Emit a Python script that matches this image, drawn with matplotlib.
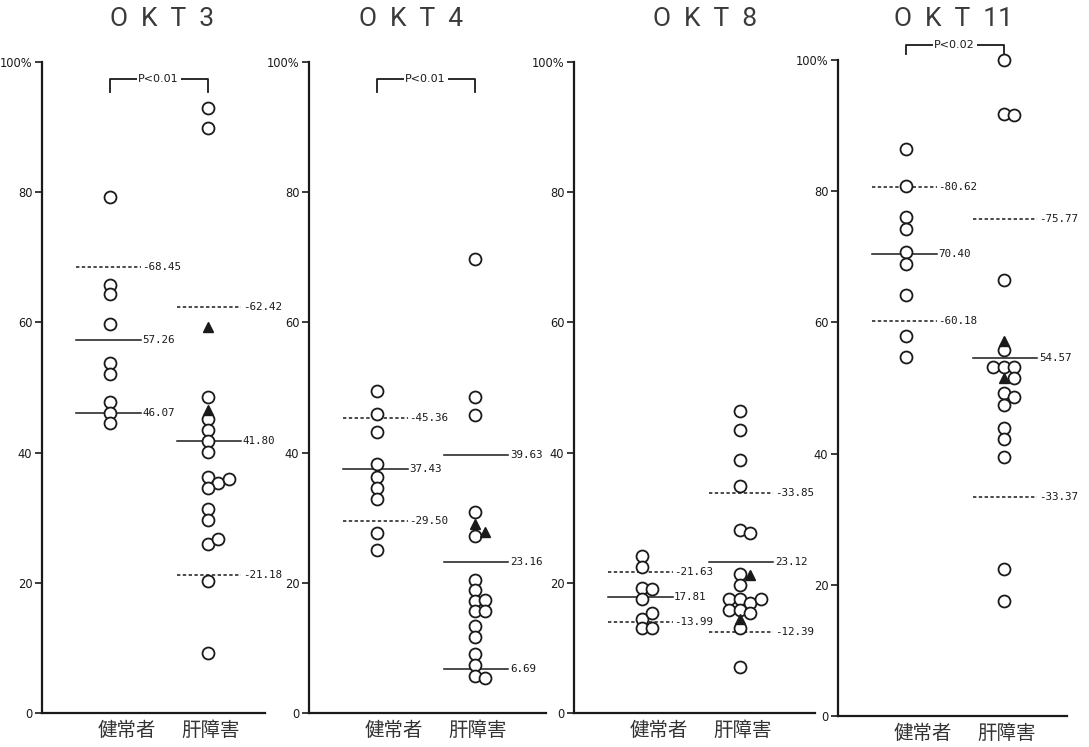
import matplotlib
matplotlib.use("Agg")
import matplotlib.pyplot as plt

# ---------------- data ----------------
panel_titles = ["O  K  T  3", "O  K  T  4", "O  K  T  8", "O  K  T  11"]
groups = ["健常者", "肝障害"]
yticks = [0, 20, 40, 60, 80, 100]
ytick_labels = ["0", "20", "40", "60", "80", "100%"]
p_labels = ["P<0.01", "P<0.01", None, "P<0.02"]

okt3_healthy = [79.2, 65.8, 64.3, 59.7, 53.7, 52.1, 47.8, 46.1, 44.6]
okt3_patient = [93.0, 89.8, 48.5, 45.1, 43.5, 41.8, 40.1, 36.2, 35.4, 35.9,
                34.5, 31.4, 29.6, 26.0, 26.7, 20.2, 9.2]
okt3_patient_tri = [59.3, 46.6]
okt3_healthy_stats = [68.45, 57.26, 46.07]
okt3_patient_stats = [62.42, 41.80, 21.18]

okt4_healthy = [49.5, 46.0, 43.1, 38.2, 36.2, 34.5, 32.9, 27.6, 25.0]
okt4_patient = [69.8, 48.6, 45.8, 30.9, 27.2, 20.4, 18.9, 17.2, 17.4, 15.6,
                15.6, 13.3, 11.7, 9.1, 7.4, 5.7, 5.4]
okt4_patient_tri = [29.0, 27.8]
okt4_healthy_stats = [45.36, 37.43, 29.50]
okt4_patient_stats = [39.63, 23.16, 6.69]

okt8_healthy = [24.1, 22.4, 19.2, 19.0, 17.5, 14.5, 15.3, 13.0, 13.0]
okt8_patient = [46.4, 43.5, 38.8, 34.9, 28.1, 27.6, 21.4, 19.7, 17.5, 17.5,
                16.9, 17.5, 15.8, 15.8, 15.4, 13.0, 7.1]
okt8_patient_tri = [21.2, 14.4]
okt8_healthy_stats = [21.63, 17.81, 13.99]
okt8_patient_stats = [33.85, 23.12, 12.39]

okt11_healthy = [86.4, 80.8, 76.0, 74.3, 70.7, 68.9, 64.2, 58.0, 54.7]
okt11_patient = [100.0, 91.8, 91.6, 66.5, 55.8, 53.2, 53.2, 53.2, 51.6, 49.3,
                 48.7, 47.4, 43.9, 42.2, 39.5, 22.4, 17.6]
okt11_patient_tri = [57.1, 51.5]
okt11_healthy_stats = [80.62, 70.40, 60.18]
okt11_patient_stats = [75.77, 54.57, 33.37]

# ---------------- layout / style (separate from data) ----------------
# column slot of each marker inside its cluster
slots = {
    "okt3": ([0] * 9,
             [0, 0, 0, 0, 0, 0, 0, 0, 1, 2, 0, 0, 0, 0, 1, 0, 0],
             [0, 0]),
    "okt4": ([0] * 9,
             [0, 0, 0, 0, 0, 0, 0, 0, 1, 0, 1, 0, 0, 0, 0, 0, 1],
             [0, 1]),
    "okt8": ([0, 0, 0, 1, 0, 0, 1, 0, 1],
             [0, 0, 0, 0, 0, 1, 0, 0, -1, 0, 1, 2, -1, 0, 1, 0, 0],
             [1, 0]),
    "okt11": ([0] * 9,
              [0, 0, 1, 0, 0, -1, 0, 1, 1, 0, 1, 0, 0, 0, 0, 0, 0],
              [0, 0]),
}
line_styles = {
    "okt3": (["dash", "solid", "solid"], ["dash", "solid", "dash"]),
    "okt4": (["dash", "solid", "dash"], ["solid", "solid", "solid"]),
    "okt8": (["dash", "solid", "dash"], ["dash", "solid", "dash"]),
    "okt11": (["dash", "solid", "dash"], ["dash", "solid", "dash"]),
}

panels = [
    ("okt3", okt3_healthy, okt3_patient, okt3_patient_tri, okt3_healthy_stats, okt3_patient_stats),
    ("okt4", okt4_healthy, okt4_patient, okt4_patient_tri, okt4_healthy_stats, okt4_patient_stats),
    ("okt8", okt8_healthy, okt8_patient, okt8_patient_tri, okt8_healthy_stats, okt8_patient_stats),
    ("okt11", okt11_healthy, okt11_patient, okt11_patient_tri, okt11_healthy_stats, okt11_patient_stats),
]

W, H = 1089, 747
# (left px, right px, top px(=100%), bottom px(=0))
boxes = [(42, 265, 62, 713), (309, 546, 62, 713), (574, 815, 62, 713), (838, 1067, 60, 716)]
title_x = [162, 411, 705, 954]
title_y = 19
PX_PER_UNIT = 67.6
POS = [1.0, 2.45]
SLOT = 0.155
INK = "#1a1a1a"
DASH = (0, (2.2, 1.6))

fig = plt.figure(figsize=(W / 100, H / 100), dpi=100)
fig.patch.set_facecolor("white")

for i, (key, hv, pv, ptri, hs, ps) in enumerate(panels):
    l, r, t, b = boxes[i]
    ax = fig.add_axes([l / W, 1 - b / H, (r - l) / W, (b - t) / H])
    ax.set_xlim(0, (r - l) / PX_PER_UNIT)
    ax.set_ylim(0, 100)
    for s in ("top", "right"):
        ax.spines[s].set_visible(False)
    for s in ("left", "bottom"):
        ax.spines[s].set_linewidth(1.6)
        ax.spines[s].set_color(INK)
    ax.set_yticks(yticks)
    ax.set_yticklabels(ytick_labels, fontsize=8.3, color=INK, family="DejaVu Sans")
    ax.tick_params(axis="y", direction="out", length=5, width=1.2, pad=2, colors=INK)
    ax.set_xticks([POS[0] + 0.25, POS[1] + 0.05])
    ax.set_xticklabels(groups, family=["Noto Sans CJK JP", "DejaVu Sans"], fontsize=14, color="#333")
    ax.tick_params(axis="x", length=0, pad=5)

    hsl, psl, tsl = slots[key]
    # healthy circles
    ax.plot([POS[0] + s * SLOT for s in hsl], hv, "o", ms=8.6, mfc="white",
            mec=INK, mew=1.3, ls="none", zorder=3, clip_on=False)
    # patient circles
    ax.plot([POS[1] + s * SLOT for s in psl], pv, "o", ms=8.6, mfc="white",
            mec=INK, mew=1.3, ls="none", zorder=3, clip_on=False)
    # patient triangles
    ax.plot([POS[1] + s * SLOT for s in tsl], ptri, "^", ms=6.5, mfc=INK,
            mec=INK, ls="none", zorder=4, clip_on=False)

    # mean +/- SD lines with labels
    hls, pls = line_styles[key]
    for pos, vals, styles, (x0, x1) in ((POS[0], hs, hls, (-0.5, 0.46)),
                                        (POS[1], ps, pls, (-0.46, 0.5))):
        for v, st in zip(vals, styles):
            ax.plot([pos + x0, pos + x1], [v, v], color=INK, lw=1.1,
                    ls=DASH if st == "dash" else "-", zorder=2)
            ax.text(pos + x1 + 0.02, v, "-" + f"{v:.2f}" if st == "dash" else f"{v:.2f}",
                    fontsize=7.8, family="DejaVu Sans Mono", color=INK,
                    ha="left", va="center")

    # P-value bracket
    if p_labels[i]:
        top = 97.4 if i < 3 else 102.3
        leg = 2.0 if i < 3 else 1.4
        ax.plot([POS[0], POS[0], POS[1], POS[1]], [top - leg, top, top, top - leg],
                color=INK, lw=1.3, clip_on=False, zorder=2)
        ax.text((POS[0] + POS[1]) / 2, top, p_labels[i], fontsize=8,
                family="DejaVu Sans", color=INK, ha="center", va="center",
                bbox=dict(boxstyle="square,pad=0.15", fc="white", ec="none"),
                zorder=3, clip_on=False)

    # title
    fig.text(title_x[i] / W, 1 - title_y / H, panel_titles[i], fontsize=19,
             color="#3a3a3a", family=["Roboto", "DejaVu Sans"], fontweight="normal",
             ha="center", va="center")

fig.savefig("out.png", dpi=100, facecolor="white")
